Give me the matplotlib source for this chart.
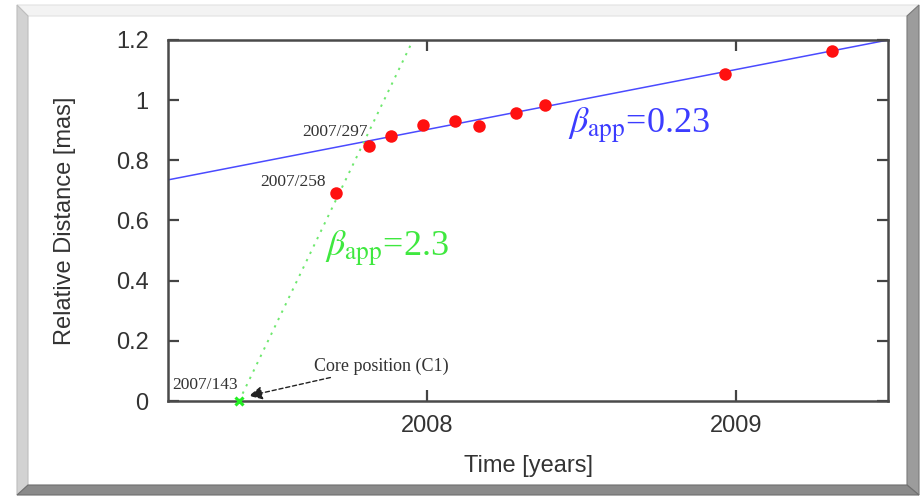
import matplotlib
matplotlib.use("Agg")
import matplotlib.pyplot as plt
from matplotlib.patches import Polygon

plt.rcParams['mathtext.fontset'] = 'stix'

# measured knot positions (decimal year, relative distance in mas)
knot_time = [2007.707, 2007.814, 2007.883, 2007.987, 2008.091, 2008.168,
             2008.288, 2008.382, 2008.964, 2009.311]
knot_dist = [0.691, 0.848, 0.881, 0.918, 0.931, 0.914,
             0.957, 0.984, 1.087, 1.164]

# core position C1 on 2007/143
core_time = [2007.392]
core_dist = [0.0]

# linear fits
slow_fit_time = [2007.162, 2009.492]
slow_fit_dist = [0.735, 1.200]
fast_fit_time = [2007.392, 2007.955]
fast_fit_dist = [0.0, 1.2]

x_ticks = [2008, 2009]
x_tick_labels = ["2008", "2009"]
y_ticks = [0, 0.2, 0.4, 0.6, 0.8, 1.0, 1.2]
y_tick_labels = ["0", "0.2", "0.4", "0.6", "0.8", "1", "1.2"]

W, H = 924, 497
fig = plt.figure(figsize=(W / 100, H / 100), dpi=100)
fig.patch.set_facecolor("white")


def px(points):
    return [(x / W, 1 - y / H) for x, y in points]


# beveled card around the plot
fig.patches.append(Polygon(px([(17, 5), (919, 5), (907, 16), (28, 16)]),
                           closed=True, transform=fig.transFigure,
                           facecolor="#f3f3f3", edgecolor="#e2e2e2", lw=0.8))
fig.patches.append(Polygon(px([(17, 5), (28, 16), (28, 485), (17, 495)]),
                           closed=True, transform=fig.transFigure,
                           facecolor="#d2d2d2", edgecolor="#bdbdbd", lw=0.8))
fig.patches.append(Polygon(px([(907, 16), (919, 5), (919, 495), (907, 485)]),
                           closed=True, transform=fig.transFigure,
                           facecolor="#9c9c9c", edgecolor="#7a7a7a", lw=0.8))
fig.patches.append(Polygon(px([(28, 485), (907, 485), (919, 495), (17, 495)]),
                           closed=True, transform=fig.transFigure,
                           facecolor="#8a8a8a", edgecolor="#6f6f6f", lw=0.8))

ax = fig.add_axes([168 / W, 1 - 401 / H, 720 / W, 361 / H])

ax.plot(slow_fit_time, slow_fit_dist, color="#4a4aff", lw=1.1, zorder=2)
ax.plot(fast_fit_time, fast_fit_dist, color="#6ee86e", lw=1.4,
        linestyle=(0, (1.2, 3)), zorder=2)
ax.plot(knot_time, knot_dist, "o", color="#ff1010", markersize=9,
        markeredgewidth=0, zorder=3)
ax.plot(core_time, core_dist, "x", color="#22ee22", markersize=6,
        markeredgewidth=2.2, zorder=4, clip_on=False)

ax.set_xlim(2007.162, 2009.492)
ax.set_ylim(0, 1.2)
ax.set_xticks(x_ticks)
ax.set_xticklabels(x_tick_labels)
ax.set_yticks(y_ticks)
ax.set_yticklabels(y_tick_labels)

ax.tick_params(direction="in", length=8, width=1.6, color="#444444",
               top=True, right=True, labelsize=17, labelcolor="#333333")
ax.tick_params(axis="y", pad=14)
ax.tick_params(axis="x", pad=10)
for lab in ax.get_xticklabels() + ax.get_yticklabels():
    lab.set_fontfamily("Liberation Sans")
for sp in ax.spines.values():
    sp.set_color("#4a4a4a")
    sp.set_linewidth(1.8)

ax.set_xlabel("Time [years]", fontsize=17, color="#333333",
              family="Liberation Sans")
ax.set_ylabel("Relative Distance [mas]", fontsize=17, color="#333333",
              family="Liberation Sans")
ax.xaxis.set_label_coords(0.5, -0.15)
ax.yaxis.set_label_coords(-0.128, 0.5)

date_style = dict(fontsize=12.5, color="#333333", family="Liberation Serif",
                  ha="right", va="center")
ax.text(2007.809, 0.893, "2007/297", **date_style)
ax.text(2007.673, 0.728, "2007/258", **date_style)
ax.text(2007.388, 0.053, "2007/143", **date_style, clip_on=False)

ax.annotate("Core position (C1)", xy=(2007.424, 0.017),
            xytext=(2007.634, 0.116), fontsize=13, color="#333333",
            family="Liberation Serif", va="center", ha="left",
            arrowprops=dict(arrowstyle="-|>", linestyle=(0, (3, 2)),
                            color="#222222", lw=1.0, mutation_scale=20,
                            shrinkA=0, shrinkB=0))

ax.text(2008.456, 0.891, r"$\beta_{\mathrm{app}}$=0.23", fontsize=26,
        color="#3c3cff", family="Liberation Serif", va="baseline")
ax.text(2007.670, 0.482, r"$\beta_{\mathrm{app}}$=2.3", fontsize=26,
        color="#3fe83f", family="Liberation Serif", va="baseline")

fig.savefig("out.png", dpi=100)
